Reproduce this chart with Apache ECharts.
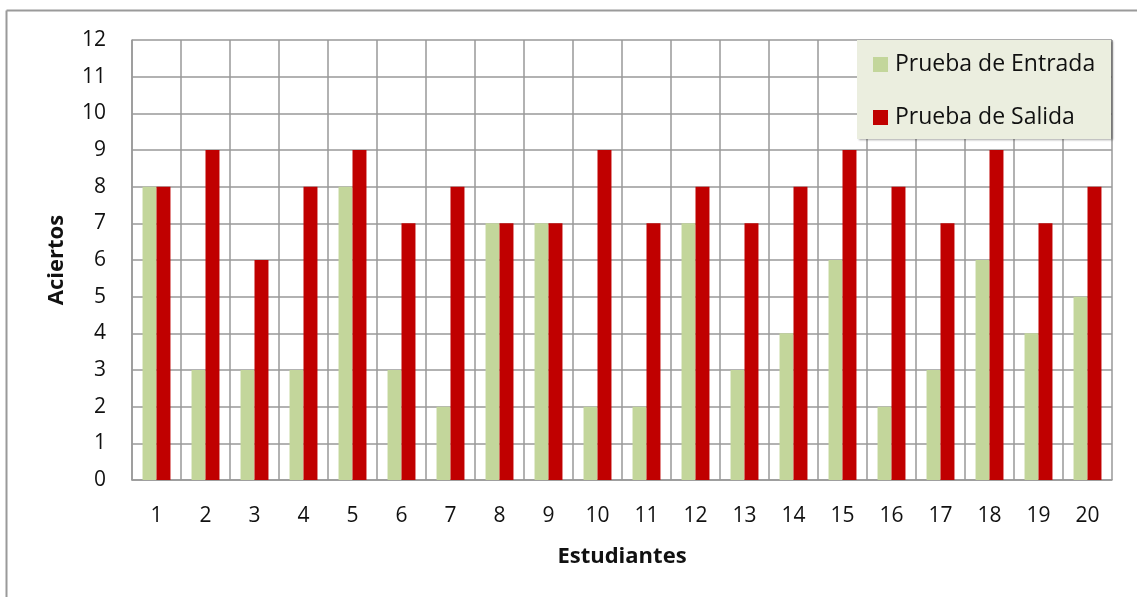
<!DOCTYPE html>
<html>
<head>
<meta charset="utf-8">
<script src="https://cdn.jsdelivr.net/npm/echarts@6/dist/echarts.min.js"></script>
<style>html,body{margin:0;padding:0;background:#fff}#c{width:1137px;height:597px}</style>
</head>
<body>
<div id="c"></div>
<script>
const categories = ['1','2','3','4','5','6','7','8','9','10','11','12','13','14','15','16','17','18','19','20'];
const entrada = [8,3,3,3,8,3,2,7,7,2,2,7,3,4,6,2,3,6,4,5];
const salida = [8,9,6,8,9,7,8,7,7,9,7,8,7,8,9,8,7,9,7,8];
const seriesNames = ['Prueba de Entrada','Prueba de Salida'];

const FONT = '"Open Sans", Lato, sans-serif';
const GRID = '#999999';
const chart = echarts.init(document.getElementById('c'), null, {renderer:'canvas'});
chart.setOption({
  animation:false,
  backgroundColor:'#ffffff',
  textStyle:{fontFamily:FONT},
  grid:{left:132, right:25, top:40, bottom:117},
  graphic:[
    {type:'line', shape:{x1:6.5,y1:10.5,x2:6.5,y2:597}, style:{stroke:'#9a9a9a',lineWidth:2}, silent:true},
    {type:'line', shape:{x1:6.5,y1:10.5,x2:1137,y2:10.5}, style:{stroke:'#9a9a9a',lineWidth:2}, silent:true},
    {type:'rect', shape:{x:857,y:40,width:254,height:99}, style:{fill:'#EBEEDF', shadowColor:'rgba(0,0,0,0.35)', shadowBlur:2, shadowOffsetX:1.5, shadowOffsetY:1}, z:5, silent:true}
  ],
  legend:{
    orient:'vertical', left:857, top:40,
    padding:[13,16,14,16], itemGap:30, itemWidth:15, itemHeight:15,
    icon:'rect',
    z:10,
    data:seriesNames,
    textStyle:{fontFamily:FONT, fontSize:23, color:'#111', padding:[0,0,0,2]}
  },
  xAxis:{
    type:'category', data:categories,
    name:'Estudiantes', nameLocation:'middle', nameGap:66,
    nameTextStyle:{fontFamily:FONT, fontSize:22, fontWeight:'bold', color:'#111'},
    axisLine:{show:true, lineStyle:{color:GRID, width:1.5}},
    axisTick:{show:false},
    axisLabel:{fontFamily:FONT, fontSize:21, color:'#111', margin:26},
    splitLine:{show:true, lineStyle:{color:GRID, width:1.5}}
  },
  yAxis:{
    type:'value', min:0, max:12, interval:1,
    name:'Aciertos', nameLocation:'middle', nameGap:64, nameRotate:90,
    nameTextStyle:{fontFamily:FONT, fontSize:22, fontWeight:'bold', color:'#111'},
    axisLine:{show:true, lineStyle:{color:GRID, width:1.5}},
    axisTick:{show:false},
    axisLabel:{fontFamily:FONT, fontSize:21, color:'#111', margin:26},
    splitLine:{show:true, lineStyle:{color:GRID, width:1.5}}
  },
  series:[
    {name:seriesNames[0], type:'bar', data:entrada, itemStyle:{color:'#C3D69B'}, barGap:'0%', barCategoryGap:'43%'},
    {name:seriesNames[1], type:'bar', data:salida, itemStyle:{color:'#C00000'}, barGap:'0%', barCategoryGap:'43%'}
  ]
});
</script>
</body>
</html>
